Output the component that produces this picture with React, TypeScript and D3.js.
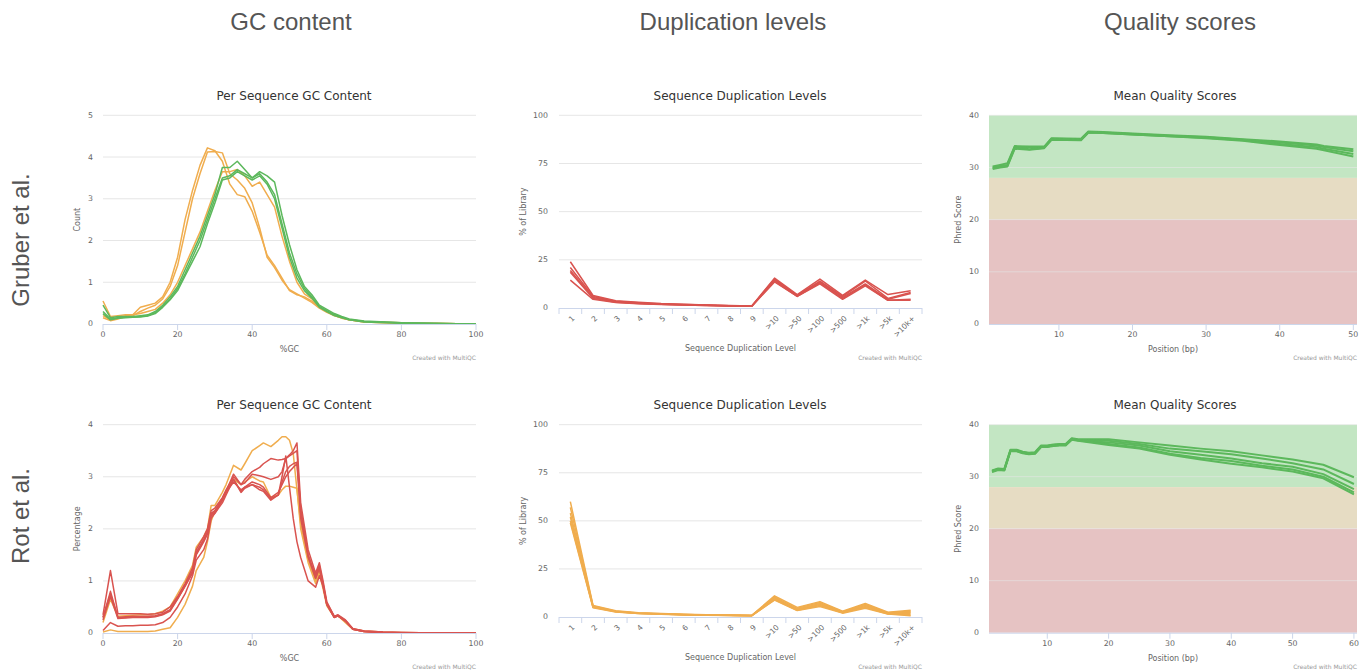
import React from 'react';
import * as d3 from 'd3';

// colours used by MultiQC
const ORANGE = '#f0ad4e';
const GREEN = '#5cb85c';
const RED = '#d9534f';

const CHART_FONT = '"DejaVu Sans", "Lucida Grande", Arial, sans-serif';
const HEAD_FONT = '"Liberation Sans", Arial, Helvetica, sans-serif';

const columnHeads = ['GC content', 'Duplication levels', 'Quality scores'];
const rowHeads = ['Gruber et al.', 'Rot et al.'];

// ---- GC content, Gruber et al. ----
const gcXGruber = [0, 2, 4, 6, 8, 10, 12, 14, 16, 18, 20, 22, 24, 26, 28, 30, 32, 34, 36, 38, 40, 42, 44, 46, 48, 50, 52, 54, 56, 58, 60, 62, 64, 66, 70, 80, 90, 100];
const gcGruberOrange = [
  [0.2, 0.1, 0.15, 0.2, 0.22, 0.4, 0.45, 0.5, 0.65, 1.0, 1.6, 2.5, 3.2, 3.8, 4.22, 4.15, 3.9, 3.35, 3.1, 3.05, 2.7, 2.2, 1.65, 1.4, 1.1, 0.8, 0.7, 0.65, 0.55, 0.4, 0.3, 0.22, 0.15, 0.1, 0.06, 0.03, 0.01, 0],
  [0.15, 0.08, 0.12, 0.18, 0.2, 0.3, 0.38, 0.45, 0.6, 0.9, 1.4, 2.2, 3.0, 3.6, 4.12, 4.13, 4.1, 3.6, 3.45, 3.25, 2.9, 2.3, 1.6, 1.35, 1.05, 0.82, 0.72, 0.62, 0.52, 0.38, 0.28, 0.2, 0.14, 0.1, 0.05, 0.02, 0.01, 0],
  [0.55, 0.18, 0.2, 0.22, 0.22, 0.25, 0.3, 0.35, 0.5, 0.7, 1.0, 1.4, 1.8, 2.2, 2.7, 3.2, 3.65, 3.65, 3.7, 3.55, 3.3, 3.4, 3.1, 2.8, 2.1, 1.5, 1.0, 0.72, 0.6, 0.42, 0.3, 0.2, 0.15, 0.1, 0.05, 0.02, 0.01, 0],
];
const gcGruberGreen = [
  [0.45, 0.15, 0.18, 0.18, 0.18, 0.2, 0.22, 0.3, 0.45, 0.65, 0.9, 1.3, 1.7, 2.1, 2.6, 3.1, 3.75, 3.75, 3.9, 3.7, 3.5, 3.65, 3.55, 3.4, 2.6, 1.9, 1.3, 0.9, 0.7, 0.45, 0.35, 0.25, 0.18, 0.12, 0.07, 0.03, 0.01, 0],
  [0.3, 0.12, 0.15, 0.16, 0.17, 0.18, 0.2, 0.27, 0.42, 0.6, 0.85, 1.2, 1.6, 2.0, 2.5, 3.0, 3.5, 3.55, 3.7, 3.6, 3.5, 3.6, 3.4, 3.1, 2.4, 1.7, 1.2, 0.85, 0.65, 0.42, 0.32, 0.22, 0.16, 0.11, 0.06, 0.03, 0.01, 0],
  [0.25, 0.1, 0.14, 0.15, 0.16, 0.17, 0.19, 0.25, 0.4, 0.58, 0.8, 1.15, 1.5, 1.85, 2.4, 2.9, 3.45, 3.5, 3.65, 3.55, 3.45, 3.55, 3.35, 3.0, 2.3, 1.6, 1.1, 0.8, 0.62, 0.4, 0.3, 0.2, 0.15, 0.1, 0.05, 0.02, 0.01, 0],
];

// ---- GC content, Rot et al. ----
const gcXRot = [0, 2, 4, 6, 8, 10, 12, 14, 16, 18, 20, 22, 24, 25, 27, 28, 29, 30, 32, 33, 35, 37, 38, 40, 42, 43, 45, 47, 48, 49, 50, 51, 52, 53, 55, 57, 58, 59, 60, 62, 63, 65, 67, 70, 75, 80, 90, 100];
const gcRotOrange = [
  [0.2, 0.65, 0.32, 0.33, 0.34, 0.35, 0.35, 0.37, 0.42, 0.5, 0.75, 1.0, 1.3, 1.65, 1.85, 2.0, 2.45, 2.45, 2.7, 2.85, 3.22, 3.13, 3.25, 3.5, 3.6, 3.65, 3.58, 3.7, 3.77, 3.77, 3.7, 3.45, 2.75, 2.1, 1.4, 1.0, 1.2, 0.95, 0.55, 0.32, 0.33, 0.22, 0.08, 0.04, 0.02, 0.01, 0, 0],
  [0.02, 0.06, 0.03, 0.03, 0.03, 0.03, 0.03, 0.04, 0.07, 0.1, 0.3, 0.55, 0.9, 1.2, 1.45, 1.75, 2.15, 2.35, 2.55, 2.7, 2.95, 2.85, 2.9, 3.0, 2.92, 2.9, 2.6, 2.65, 2.75, 2.82, 2.82, 2.8, 2.78, 2.0, 1.35, 0.95, 1.15, 0.85, 0.52, 0.3, 0.33, 0.2, 0.07, 0.03, 0.01, 0, 0, 0],
];
const gcRotRed = [
  [0.35, 1.2, 0.37, 0.37, 0.37, 0.37, 0.36, 0.37, 0.4, 0.5, 0.7, 0.95, 1.25, 1.6, 1.85, 2.0, 2.35, 2.4, 2.6, 2.75, 3.0, 2.85, 2.95, 3.1, 3.18, 3.25, 3.35, 3.32, 3.33, 3.35, 3.42, 3.5, 3.65, 2.5, 1.6, 1.15, 1.35, 1.0, 0.6, 0.32, 0.35, 0.25, 0.08, 0.04, 0.02, 0.01, 0, 0],
  [0.3, 0.8, 0.3, 0.31, 0.32, 0.32, 0.32, 0.33, 0.37, 0.45, 0.68, 0.92, 1.2, 1.55, 1.8, 1.95, 2.3, 2.35, 2.58, 2.72, 3.05, 2.85, 2.88, 3.05, 3.02, 3.0, 2.95, 3.0, 3.1, 3.35, 3.4, 3.45, 3.5, 2.3, 1.5, 1.1, 1.3, 0.95, 0.58, 0.32, 0.34, 0.24, 0.08, 0.04, 0.02, 0.01, 0, 0],
  [0.25, 0.7, 0.28, 0.29, 0.3, 0.3, 0.3, 0.31, 0.35, 0.42, 0.65, 0.9, 1.15, 1.5, 1.75, 1.9, 2.25, 2.3, 2.55, 2.7, 2.9, 2.75, 2.8, 2.9, 2.85, 2.8, 2.6, 2.7, 2.85, 3.0, 3.1, 3.18, 3.25, 2.2, 1.45, 1.05, 1.25, 0.9, 0.55, 0.3, 0.33, 0.23, 0.07, 0.03, 0.01, 0, 0, 0],
  [0.3, 0.75, 0.3, 0.3, 0.31, 0.31, 0.31, 0.32, 0.36, 0.44, 0.66, 0.9, 1.18, 1.52, 1.78, 1.92, 2.28, 2.32, 2.56, 2.7, 2.95, 2.7, 2.78, 2.85, 2.75, 2.72, 2.55, 2.65, 3.0, 3.4, 2.8, 2.2, 1.75, 1.45, 1.0, 0.88, 1.1, 0.9, 0.55, 0.3, 0.33, 0.23, 0.07, 0.03, 0.01, 0, 0, 0],
  [0.05, 0.2, 0.13, 0.14, 0.14, 0.15, 0.15, 0.16, 0.2, 0.3, 0.5, 0.75, 1.1, 1.4, 1.6, 1.8, 2.2, 2.3, 2.5, 2.65, 2.95, 2.72, 2.8, 2.85, 2.8, 2.75, 2.58, 2.65, 2.9, 3.1, 3.2, 3.25, 3.28, 2.4, 1.5, 1.05, 1.25, 0.92, 0.55, 0.3, 0.33, 0.23, 0.07, 0.03, 0.01, 0, 0, 0],
];

// ---- Duplication levels ----
const dupLevels = ['1', '2', '3', '4', '5', '6', '7', '8', '9', '>10', '>50', '>100', '>500', '>1k', '>5k', '>10k+'];
const dupGruber = [
  [24, 6.5, 3.8, 3.0, 2.3, 1.9, 1.6, 1.3, 1.1, 15.5, 7, 15, 6.5, 14.5, 7, 9],
  [21, 6, 3.5, 2.7, 2.1, 1.8, 1.5, 1.2, 1.0, 15, 6.5, 14, 6, 14, 5, 8],
  [19.5, 5.5, 3.2, 2.5, 2.0, 1.7, 1.4, 1.2, 1.0, 14.5, 6.5, 13.5, 5.5, 12.5, 4.5, 7.5],
  [18.5, 5, 3, 2.3, 1.9, 1.6, 1.3, 1.1, 0.9, 14, 6, 13, 5, 12, 4, 4.5],
  [14.5, 4.5, 2.8, 2.2, 1.8, 1.5, 1.3, 1.1, 0.9, 13.5, 6, 12.5, 4.5, 11.5, 4, 4],
];
const dupRot = [
  [60, 6, 3.2, 2.2, 1.8, 1.4, 1.2, 1.0, 0.9, 11, 5, 8, 3, 7, 2.5, 3.5],
  [57, 5.7, 3.0, 2.1, 1.7, 1.3, 1.1, 0.9, 0.8, 10.5, 4.5, 7.5, 2.8, 6.5, 2.2, 3],
  [54, 5.5, 2.9, 2.0, 1.6, 1.3, 1.1, 0.9, 0.8, 10, 4, 7, 2.5, 6, 2, 2.5],
  [52, 5.2, 2.8, 1.9, 1.5, 1.2, 1.0, 0.9, 0.7, 9.5, 3.8, 6.5, 2.3, 5.5, 1.8, 2],
  [50, 5, 2.7, 1.8, 1.5, 1.2, 1.0, 0.8, 0.7, 9, 3.5, 6, 2.2, 5, 1.6, 1.2],
  [49, 4.8, 2.6, 1.8, 1.4, 1.1, 0.9, 0.8, 0.7, 8.8, 3.4, 5.5, 2, 4.5, 1.5, 0.6],
];

// ---- Mean quality scores ----
const qPosGruber = [1, 2, 3, 4, 6, 8, 9, 13, 14, 16, 20, 25, 30, 35, 40, 45, 46, 50];
const qGruber = [
  [30.2, 30.5, 30.8, 34.1, 34.0, 34.0, 35.6, 35.5, 36.9, 36.8, 36.5, 36.2, 35.9, 35.4, 35.0, 34.4, 34.1, 33.5],
  [30.0, 30.3, 30.5, 34.0, 33.9, 33.9, 35.5, 35.4, 36.8, 36.7, 36.4, 36.1, 35.8, 35.3, 34.8, 34.2, 33.9, 33.1],
  [29.9, 30.1, 30.3, 33.8, 33.5, 33.8, 35.4, 35.3, 36.7, 36.6, 36.3, 36.0, 35.7, 35.2, 34.5, 33.9, 33.6, 32.6],
  [29.7, 30.0, 30.2, 33.6, 33.4, 33.7, 35.3, 35.2, 36.7, 36.6, 36.3, 36.0, 35.6, 35.1, 34.3, 33.6, 33.3, 32.1],
];
const qPosRot = [1, 2, 3, 4, 5, 6, 7, 8, 9, 10, 11, 12, 13, 14, 15, 20, 25, 30, 35, 40, 45, 50, 55, 60];
const qRot = [
  [31.2, 31.6, 31.5, 35.2, 35.2, 34.8, 34.6, 34.7, 36.0, 36.0, 36.2, 36.3, 36.3, 37.4, 37.2, 37.2, 36.6, 36.0, 35.4, 34.9, 34.1, 33.3, 32.3, 29.9],
  [31.1, 31.5, 31.4, 35.1, 35.1, 34.7, 34.5, 34.6, 35.9, 35.9, 36.1, 36.2, 36.2, 37.3, 37.1, 36.9, 36.3, 35.4, 34.9, 34.3, 33.5, 32.6, 31.4, 28.6],
  [31.0, 31.4, 31.3, 35.0, 35.0, 34.6, 34.4, 34.5, 35.8, 35.8, 36.0, 36.1, 36.1, 37.2, 37.0, 36.6, 36.0, 34.9, 34.2, 33.5, 32.6, 31.9, 30.5, 27.6],
  [31.0, 31.4, 31.3, 35.0, 35.0, 34.6, 34.4, 34.5, 35.8, 35.8, 36.0, 36.1, 36.1, 37.2, 37.0, 36.3, 35.6, 34.4, 33.6, 33.0, 32.1, 31.4, 30.0, 27.0],
  [30.9, 31.3, 31.2, 34.9, 34.9, 34.5, 34.3, 34.4, 35.7, 35.7, 35.9, 36.0, 36.0, 37.1, 36.9, 36.1, 35.4, 34.2, 33.3, 32.5, 31.8, 31.0, 29.7, 26.6],
];
const qBands = [
  { from: 28, to: 40, color: '#c3e6c3' },
  { from: 20, to: 28, color: '#e6dcc3' },
  { from: 0, to: 20, color: '#e6c3c3' },
];

type Series = { xs: (number | string)[]; ys: number[]; color: string };

type PanelProps = {
  left: number; right: number; top: number; bottom: number;
  title: string; titleX: number; titleY: number;
  yLabel: string; yLabelX: number; yTickX: number;
  xLabel: string;
  yDomain: [number, number]; yTicks: number[];
  xDomain?: [number, number]; xTicks?: number[];
  categories?: string[];
  series: Series[];
  strokeWidth: number;
  bands?: { from: number; to: number; color: string }[];
};

function Panel(p: PanelProps) {
  const y = d3.scaleLinear().domain(p.yDomain).range([p.bottom, p.top]);
  const band = d3.scaleBand<string>().domain(p.categories ?? []).range([p.left, p.right]);
  const lin = d3.scaleLinear().domain(p.xDomain ?? [0, 1]).range([p.left, p.right]);
  const xPos = (v: number | string) =>
    p.categories ? (band(String(v)) ?? 0) + band.bandwidth() / 2 : lin(v as number);
  const midX = (p.left + p.right) / 2;
  const rot = p.categories != null;

  return (
    <g fontFamily={CHART_FONT}>
      <text x={p.titleX} y={p.titleY} textAnchor="middle" fontSize={12} fill="#333">{p.title}</text>
      {p.bands?.map((b, i) => (
        <rect key={i} x={p.left} width={p.right - p.left} y={y(b.to)} height={y(b.from) - y(b.to)} fill={b.color} />
      ))}
      {p.yTicks.map((t) => (
        <g key={t}>
          {t !== p.yDomain[0] && (
            <line x1={p.left} x2={p.right} y1={y(t)} y2={y(t)} stroke="#e6e6e6" strokeOpacity={p.bands ? 0.6 : 1} />
          )}
          <text x={p.yTickX} y={y(t)} dy="0.32em" textAnchor="end" fontSize={7.8} fill="#666">{t}</text>
        </g>
      ))}
      <text transform={`translate(${p.yLabelX},${(p.top + p.bottom) / 2}) rotate(-90)`} textAnchor="middle" fontSize={8} fill="#666">{p.yLabel}</text>
      {p.series.map((s, i) => {
        const path = d3.line<number>()
          .x((_, j) => xPos(s.xs[j]))
          .y((d) => y(d))(s.ys);
        return <path key={i} d={path ?? ''} fill="none" stroke={s.color} strokeWidth={p.strokeWidth} strokeLinejoin="round" />;
      })}
      <line x1={p.left} x2={p.right} y1={p.bottom + 0.5} y2={p.bottom + 0.5} stroke="#ccd6eb" />
      {p.categories
        ? [...p.categories.map((c) => band(c) ?? 0), p.right].map((bx, i) => (
            <line key={i} x1={bx} x2={bx} y1={p.bottom} y2={p.bottom + 6} stroke="#ccd6eb" />
          ))
        : p.xTicks!.map((t) => (
            <line key={t} x1={lin(t)} x2={lin(t)} y1={p.bottom} y2={p.bottom + 6} stroke="#ccd6eb" />
          ))}
      {p.categories
        ? p.categories.map((c) => (
            <text key={c} transform={`translate(${xPos(c) + 3},${p.bottom + 9}) rotate(-45)`} textAnchor="end" dy="0.35em" fontSize={7.5} fill="#666">{c}</text>
          ))
        : p.xTicks!.map((t) => (
            <text key={t} x={lin(t)} y={p.bottom + 13} textAnchor="middle" fontSize={7.8} fill="#666">{t}</text>
          ))}
      <text x={midX} y={p.bottom + (rot ? 43 : 28)} textAnchor="middle" fontSize={8} fill="#666">{p.xLabel}</text>
      <text x={p.right} y={p.bottom + (rot ? 52 : 36)} textAnchor="end" fontSize={6} fill="#999">Created with MultiQC</text>
    </g>
  );
}

const mk = (xs: (number | string)[], rows: number[][], color: string): Series[] =>
  rows.map((ys) => ({ xs, ys, color }));

export default function App() {
  const colX = [291, 733, 1180];
  const rowY = [240, 516];
  return (
    <svg width={1356} height={670} style={{ display: 'block', background: '#fff' }}>
      {columnHeads.map((h, i) => (
        <text key={h} x={colX[i] - 8} y={22} textAnchor="middle" fontFamily={HEAD_FONT} fontSize={24} fill="#555">{h}</text>
      ))}
      {rowHeads.map((h, i) => (
        <text key={h} transform={`translate(13,${rowY[i] - 8}) rotate(-90)`} textAnchor="middle" dy="0.35em" fontFamily={HEAD_FONT} fontSize={24} fill="#555">{h}</text>
      ))}
      <g transform="translate(-8,-8)">
        <Panel left={103} right={476} top={115.3} bottom={324} title="Per Sequence GC Content" titleX={294} titleY={100}
          yLabel="Count" yLabelX={80} yTickX={93} xLabel="%GC" yDomain={[0, 5]} yTicks={[0, 1, 2, 3, 4, 5]}
          xDomain={[0, 100]} xTicks={[0, 20, 40, 60, 80, 100]} strokeWidth={1.5}
          series={[...mk(gcXGruber, gcGruberOrange, ORANGE), ...mk(gcXGruber, gcGruberGreen, GREEN)]} />
        <Panel left={103} right={476} top={424.7} bottom={633} title="Per Sequence GC Content" titleX={294} titleY={409}
          yLabel="Percentage" yLabelX={80} yTickX={93} xLabel="%GC" yDomain={[0, 4]} yTicks={[0, 1, 2, 3, 4]}
          xDomain={[0, 100]} xTicks={[0, 20, 40, 60, 80, 100]} strokeWidth={1.5}
          series={[...mk(gcXRot, gcRotOrange, ORANGE), ...mk(gcXRot, gcRotRed, RED)]} />
        <Panel left={559} right={922} top={115.3} bottom={308} title="Sequence Duplication Levels" titleX={740} titleY={100}
          yLabel="% of Library" yLabelX={526} yTickX={548} xLabel="Sequence Duplication Level" yDomain={[0, 100]} yTicks={[0, 25, 50, 75, 100]}
          categories={dupLevels} strokeWidth={1.5} series={mk(dupLevels, dupGruber, RED)} />
        <Panel left={559} right={922} top={424.7} bottom={617} title="Sequence Duplication Levels" titleX={740} titleY={409}
          yLabel="% of Library" yLabelX={526} yTickX={548} xLabel="Sequence Duplication Level" yDomain={[0, 100]} yTicks={[0, 25, 50, 75, 100]}
          categories={dupLevels} strokeWidth={1.5} series={mk(dupLevels, dupRot, ORANGE)} />
        <Panel left={989} right={1357} top={115.3} bottom={324} title="Mean Quality Scores" titleX={1175} titleY={100}
          yLabel="Phred Score" yLabelX={961} yTickX={979} xLabel="Position (bp)" yDomain={[0, 40]} yTicks={[0, 10, 20, 30, 40]}
          xDomain={[0.5, 50.5]} xTicks={[10, 20, 30, 40, 50]} strokeWidth={2} bands={qBands}
          series={mk(qPosGruber, qGruber, GREEN)} />
        <Panel left={989} right={1357} top={424.7} bottom={632.7} title="Mean Quality Scores" titleX={1175} titleY={409}
          yLabel="Phred Score" yLabelX={961} yTickX={979} xLabel="Position (bp)" yDomain={[0, 40]} yTicks={[0, 10, 20, 30, 40]}
          xDomain={[0.5, 60.5]} xTicks={[10, 20, 30, 40, 50, 60]} strokeWidth={2} bands={qBands}
          series={mk(qPosRot, qRot, GREEN)} />
      </g>
    </svg>
  );
}
